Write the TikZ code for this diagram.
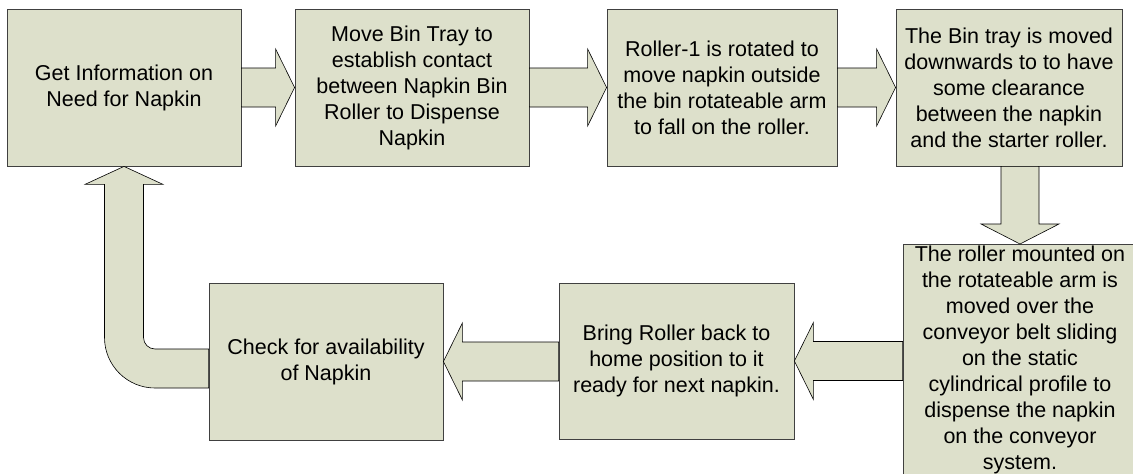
\documentclass[tikz,border=0pt]{standalone}
\usepackage{fontspec}
\setmainfont{Liberation Sans}
\usetikzlibrary{calc}
\definecolor{boxfill}{RGB}{221,224,203}
\definecolor{boxline}{RGB}{64,64,64}
\tikzset{
    stepbox/.style={draw=boxline, fill=boxfill, line width=0.8pt, minimum width=234pt, minimum height=157pt, align=center, inner sep=2pt},
    blockarrow/.style={draw=black, fill=boxfill, line width=0.6pt, line join=miter}
}
\begin{document}
\begin{tikzpicture}[x=1pt, y=-1pt, font=\fontsize{21.5}{26}\selectfont]
                \clip (0,0) rectangle (1133,474);
                % top row
                \node[stepbox] (b1) at (124,87.5) {Get Information on\\Need for Napkin};
                \node[stepbox] (b2) at (412,87.5) {Move Bin Tray to\\establish contact\\between Napkin Bin\\Roller to Dispense\\Napkin};
                \node[stepbox, minimum width=230pt] (b3) at (722,87.5) {Roller-1 is rotated to\\move napkin outside\\the bin rotateable arm\\to fall on the roller.};
                \node[stepbox, minimum width=226pt] (b4) at (1009,87.5) {The Bin tray is moved\\downwards to to have\\some clearance\\between the napkin\\and the starter roller.};
                % bottom row
                \node[stepbox, minimum height=262pt, anchor=north] (b5) at (1020,244) {};
                \node[anchor=north, align=center, inner sep=2pt] (b5text) at (b5.north) {The roller mounted on\\the rotateable arm is\\moved over the\\conveyor belt sliding\\on the static\\cylindrical profile to\\dispense the napkin\\on the conveyor\\system.};
                \node[stepbox, minimum width=235pt, minimum height=156pt] (b6) at (676.5,361) {Bring Roller back to\\home position to it\\ready for next napkin.};
                \node[stepbox] (b7) at (326,361.5) {Check for availability\\of Napkin};
                % block arrows
                \foreach \a/\b in {b1/b2, b2/b3, b3/b4}
                    \draw[blockarrow] ($(\a.east)+(0,-19.5)$) -- ($(\b.west)+(-19,-19.5)$) -- ($(\b.west)+(-19,-38.5)$) -- (\b.west)
                        -- ($(\b.west)+(-19,38.5)$) -- ($(\b.west)+(-19,19.5)$) -- ($(\a.east)+(0,19.5)$) -- cycle;
                \draw[blockarrow] ($(b5.north |- b4.south)+(-19,0)$) -- ($(b5.north)+(-19,-20)$) -- ($(b5.north)+(-39,-20)$) -- (b5.north)
                    -- ($(b5.north)+(39,-20)$) -- ($(b5.north)+(19,-20)$) -- ($(b5.north |- b4.south)+(19,0)$) -- cycle;
                \foreach \a/\b in {b5/b6, b6/b7}
                    \draw[blockarrow] ($(\b.east -| \a.west)+(0,-19.5)$) -- ($(\b.east)+(19,-19.5)$) -- ($(\b.east)+(19,-38.5)$) -- (\b.east)
                        -- ($(\b.east)+(19,38.5)$) -- ($(\b.east)+(19,19.5)$) -- ($(\b.east -| \a.west)+(0,19.5)$) -- cycle;
                % return arrow
                \coordinate (bend) at ($(b1.south |- b7.west)+(0,7)$);
                \draw[blockarrow] ($(b7.west |- bend)+(0,-19.5)$) -- ($(bend)+(31,-19.5)$) arc[start angle=90, end angle=180, radius=11.5]
                    -- ($(b1.south)+(19.5,18)$) -- ($(b1.south)+(39,18)$) -- (b1.south) -- ($(b1.south)+(-39,18)$) -- ($(b1.south)+(-19.5,18)$)
                    -- ($(bend)+(-19.5,-31)$) arc[start angle=180, end angle=90, radius=50.5] -- ($(b7.west |- bend)+(0,19.5)$) -- cycle;
            \end{tikzpicture}
\end{document}
